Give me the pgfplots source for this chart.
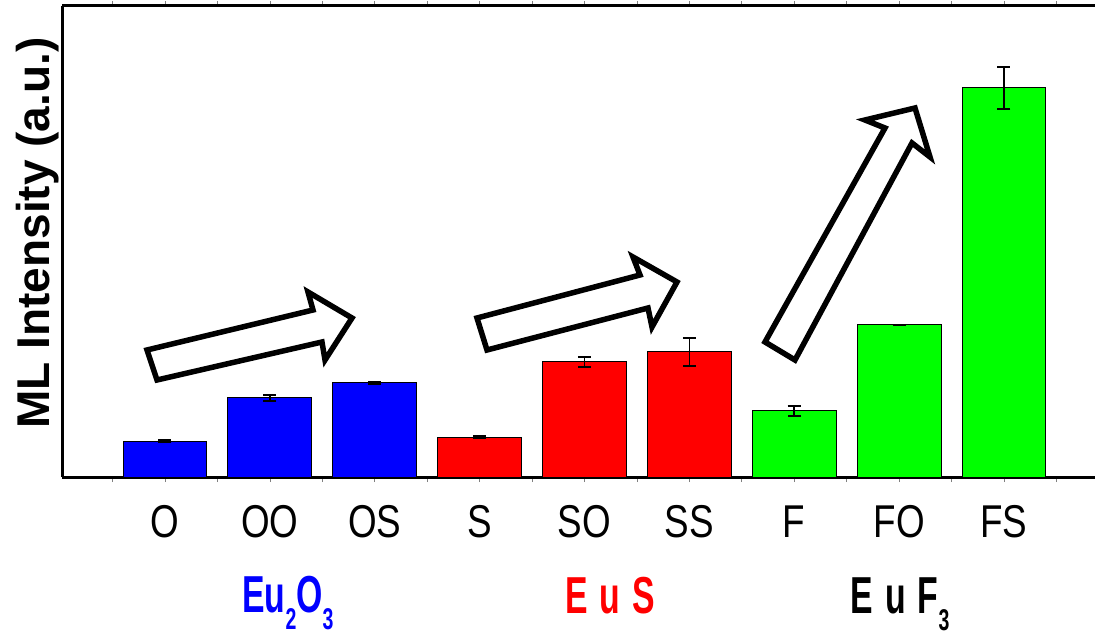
\documentclass[border=0pt]{standalone}
\usepackage{fontspec}
\setmainfont{Liberation Sans}
\newfontfamily\tickfont[FakeStretch=0.8]{Liberation Sans}
\newfontfamily\grpfont[FakeStretch=0.65]{Liberation Sans}
\usepackage{pgfplots}
\usepackage{pgfplotstable}
\pgfplotsset{compat=1.18}

\pgfplotstableread{
x y e
0 36 1
1 79 3
2 94 1
}\datablue
\pgfplotstableread{
x y e
3 40 1
4 115 5
5 125 14
}\datared
\pgfplotstableread{
x y e
6 66 5
7 152 0
8 389 21
}\datagreen

\begin{document}
\begin{tikzpicture}
\begin{axis}[
  scale only axis, width=1033pt, height=471pt,
  xmin=-0.982, xmax=8.868, ymin=0, ymax=471,
  axis x line*=box, axis y line*=left,
  x axis line style={-, line width=3pt},
  y axis line style={-, line width=3pt},
  ytick=\empty,
  xtick={0,...,8}, xticklabels={O,OO,OS,S,SO,SS,F,FO,FS},
  minor xtick={-0.5,0.5,...,8.5},
  tick style={gray, line width=0.6pt},
  major tick length=5pt, minor tick length=5pt,
  tick align=outside,
  xticklabel style={font=\tickfont\fontsize{46}{46}\selectfont, anchor=base, yshift=-55pt},
  ybar, bar width=0.8, bar shift=0pt,
  error bars/y dir=both, error bars/y explicit,
  error bars/error bar style={black, line width=1.5pt},
  error bars/error mark options={black, rotate=90, mark size=6.5pt, line width=1.5pt},
  clip=false,
]
\addplot[ybar, bar shift=0pt, fill=blue, draw=black, line width=1pt] table[x=x, y=y, y error=e]{\datablue};
\addplot[ybar, bar shift=0pt, fill=red, draw=black, line width=1pt] table[x=x, y=y, y error=e]{\datared};
\addplot[ybar, bar shift=0pt, fill={rgb,255:red,0;green,255;blue,0}, draw=black, line width=1pt] table[x=x, y=y, y error=e]{\datagreen};
\coordinate (sw) at (rel axis cs:0,0);
\end{axis}
\begin{scope}[shift={(sw)}, xshift=-62pt, yshift=477pt, x=1pt, y=-1pt]
  \draw[line width=5.5pt, line join=miter, fill=white]
    (147,350) -- (313,310) -- (308,292) -- (352,318) -- (325,360) -- (322,342) -- (157,380) -- cycle;
  \draw[line width=5.5pt, line join=miter, fill=white]
    (477,318) -- (640,275) -- (633,257) -- (677,282) -- (652,327) -- (648,308) -- (487,350) -- cycle;
  \draw[line width=5.5pt, line join=miter, fill=white]
    (765,342) -- (885,128) -- (865,120) -- (915,108) -- (930,157) -- (912,143) -- (795,360) -- cycle;
  \node[rotate=90, anchor=base, font=\bfseries\fontsize{46}{46}\selectfont, inner sep=0pt] at (50,233) {ML Intensity (a.u.)};
  \node[anchor=base, text=blue, inner sep=0pt, font=\grpfont\bfseries\fontsize{52}{52}\selectfont] at (288,612)
    {Eu\raisebox{-17pt}{\fontsize{30}{30}\selectfont 2}O\raisebox{-17pt}{\fontsize{30}{30}\selectfont 3}};
  \node[anchor=base, text=red, inner sep=0pt, font=\grpfont\bfseries\fontsize{52}{52}\selectfont] at (610,613)
    {E\hspace{12pt}u\hspace{12pt}S};
  \node[anchor=base, text=black, inner sep=0pt, font=\grpfont\bfseries\fontsize{52}{52}\selectfont] at (900,613)
    {E\hspace{12pt}u\hspace{12pt}F\raisebox{-17pt}{\fontsize{30}{30}\selectfont 3}};
  \pgfresetboundingbox
  \useasboundingbox (0,0) rectangle (1095,637);
\end{scope}
\end{tikzpicture}
\end{document}
